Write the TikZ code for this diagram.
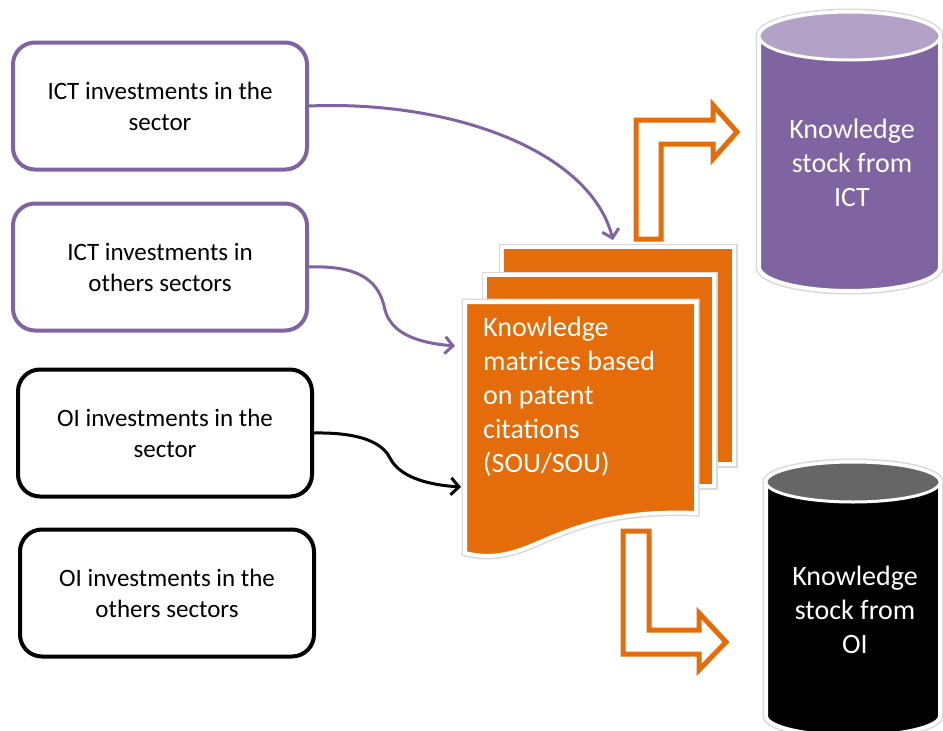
\documentclass[tikz,border=0pt]{standalone}
\usepackage{fontspec}
\setmainfont{Carlito}
\usepackage{tikz}
\usetikzlibrary{arrows.meta}
\definecolor{ictpurple}{HTML}{8064A2}
\definecolor{ictlight}{HTML}{B3A2C7}
\definecolor{oigray}{HTML}{666666}
\definecolor{docorange}{HTML}{E46C0A}

\begin{document}
\begin{tikzpicture}[x=1pt, y=-1pt, >={Straight Barb[length=8pt,width=17pt]},
    inbox/.style={draw=#1, line width=4pt, rounded corners=22pt, minimum width=294pt,
        minimum height=127pt, align=center, font=\fontsize{25}{31}\selectfont},
    halo/.style={draw=black!15, line width=7pt},
    rim/.style={draw=white, line width=4pt},
    whitetext/.style={text=white, font=\fontsize{28}{34}\selectfont}]
        \useasboundingbox (0,0) rectangle (943,731);
        \clip (0,0) rectangle (943,731);

        % Draw investment boxes
        \node[inbox=ictpurple] (ictsec) at (160,106) {ICT investments in the\\sector};
        \node[inbox=ictpurple] (ictoth) at (160,267) {ICT investments in\\others sectors};
        \node[inbox=black] (oisec) at (165,433) {OI investments in the\\sector};
        \node[inbox=black] (oioth) at (167,593) {OI investments in the\\others sectors};

        % Draw stacked knowledge matrices
        \draw[halo] (502,247) rectangle (734,464);
        \filldraw[fill=docorange, rim] (502,247) rectangle (734,464);
        \draw[halo] (485,275) rectangle (714,486);
        \filldraw[fill=docorange, rim] (485,275) rectangle (714,486);
        \draw[halo] (465,302) -- (696,302) -- (696,513) .. controls (620,510) and (580,525) ..
            (540,542) .. controls (505,558) and (485,558) .. (465,553) -- cycle;
        \filldraw[fill=docorange, rim] (465,302) -- (696,302) -- (696,513) .. controls (620,510) and (580,525) ..
            (540,542) .. controls (505,558) and (485,558) .. (465,553) -- cycle;
        \node[whitetext, align=left, anchor=north west, inner sep=0pt] (matrix) at (483,317)
            {Knowledge\\matrices based\\on patent\\citations\\(SOU/SOU)};

        % Mark where the links end
        \coordinate (in1) at (613,240);
        \coordinate (in2) at (455,346);
        \coordinate (in3) at (461,487);

        % Draw links into the matrices
        \draw[->, ictpurple, line width=3pt] (ictsec.east) .. controls (450,100) and (590,150) .. (in1);
        \draw[->, ictpurple, line width=3pt] (ictoth.east) .. controls (365,265) and (380,285) ..
            (385,310) .. controls (392,335) and (420,343) .. (in2);
        \draw[->, black, line width=3pt] (oisec.east) .. controls (370,432) and (385,448) ..
            (390,458) .. controls (400,478) and (430,485) .. (in3);

        % Draw bent output arrows
        \filldraw[fill=white, draw=docorange, line width=5pt, line join=miter] (636,239) -- (636,120) -- (713,120)
            -- (713,105) -- (737,132) -- (713,159) -- (713,144) -- (661,144) -- (661,239) -- cycle;
        \filldraw[fill=white, draw=docorange, line width=5pt, line join=miter] (623,531) -- (649,531) -- (649,630)
            -- (699,630) -- (699,613) -- (726,642) -- (699,670) -- (699,654) -- (623,654) -- cycle;

        % Draw knowledge stock from ICT
        \draw[halo] (759,36) -- (759,267) arc[start angle=180, end angle=360, x radius=90.5pt, y radius=24pt]
            -- (940,36) arc[start angle=0, end angle=180, x radius=90.5pt, y radius=24pt] -- cycle;
        \filldraw[fill=ictpurple, rim] (759,36) -- (759,267) arc[start angle=180, end angle=360, x radius=90.5pt, y radius=24pt]
            -- (940,36) arc[start angle=0, end angle=180, x radius=90.5pt, y radius=24pt] -- cycle;
        \filldraw[fill=ictlight, draw=white, line width=3pt] (849.5,36) ellipse[x radius=90.5pt, y radius=24pt];
        \node[whitetext, align=center] (ictstock) at (852,163) {Knowledge\\stock from\\ICT};

        % Draw knowledge stock from OI
        \draw[halo] (766,482) -- (766,716) arc[start angle=180, end angle=360, x radius=87pt, y radius=20pt]
            -- (940,482) arc[start angle=0, end angle=180, x radius=87pt, y radius=20pt] -- cycle;
        \filldraw[fill=black, rim] (766,482) -- (766,716) arc[start angle=180, end angle=360, x radius=87pt, y radius=20pt]
            -- (940,482) arc[start angle=0, end angle=180, x radius=87pt, y radius=20pt] -- cycle;
        \filldraw[fill=oigray, draw=white, line width=3pt] (853,482) ellipse[x radius=87pt, y radius=20pt];
        \node[whitetext, align=center] (oistock) at (855,610) {Knowledge\\stock from\\OI};
    \end{tikzpicture}
\end{document}
